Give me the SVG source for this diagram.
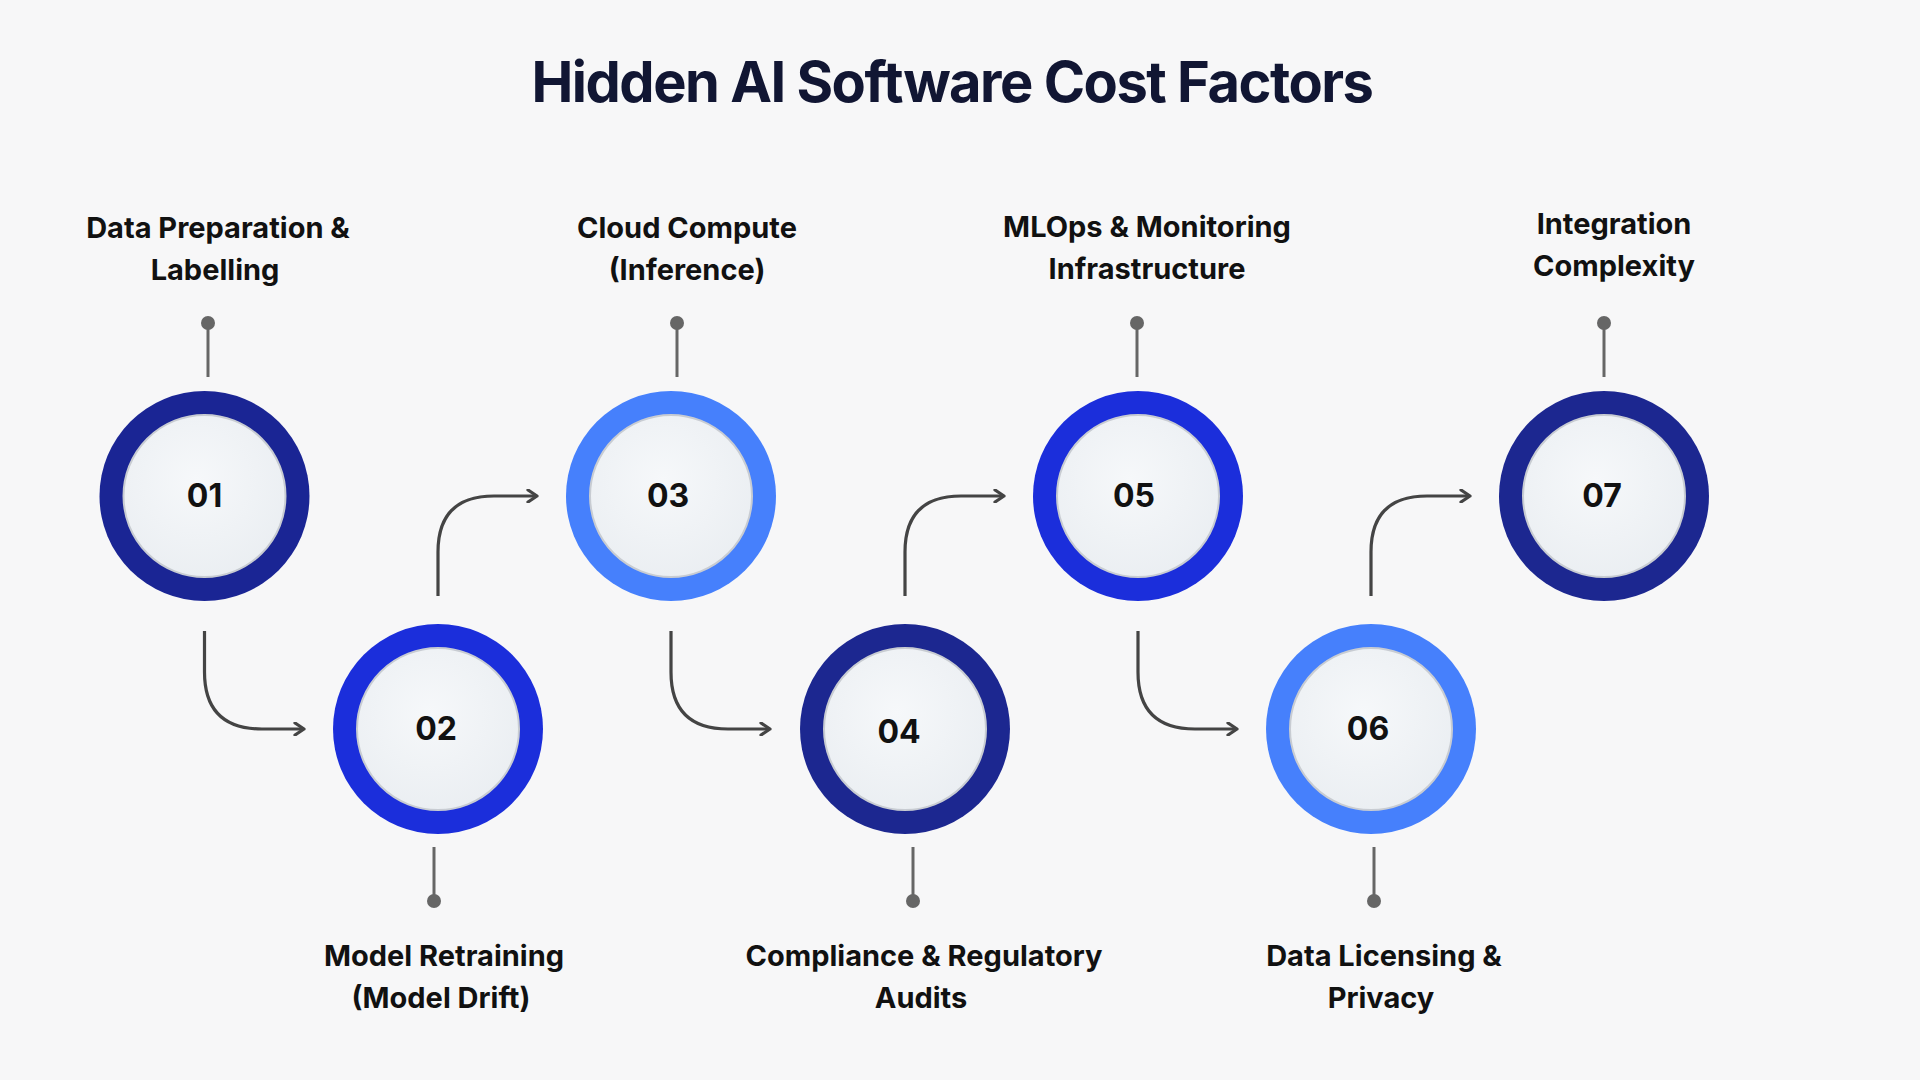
<svg xmlns="http://www.w3.org/2000/svg" width="1920" height="1080" viewBox="0 0 1920 1080">
<defs>
<marker id="ah" markerWidth="14" markerHeight="14" refX="11" refY="7" orient="auto" markerUnits="userSpaceOnUse"><path d="M2,1 L11,7 L2,13" fill="none" stroke="#444" stroke-width="3.2" stroke-linecap="round" stroke-linejoin="round"/></marker>
<radialGradient id="ig" cx="0.45" cy="0.4" r="0.7"><stop offset="0" stop-color="#f6f8fa"/><stop offset="1" stop-color="#e9edf1"/></radialGradient>
</defs>
<style>
.t{font-family:Inter,"Noto Sans",sans-serif;font-weight:700;fill:#111;font-size:29px;text-anchor:middle}
.n{font-family:Inter,"Noto Sans",sans-serif;font-weight:700;fill:#111;font-size:32px;text-anchor:middle}
.in{fill:url(#ig);stroke:#c8ccd2;stroke-width:2}
.pin{stroke:#666;stroke-width:3}
.dot{fill:#666}
.c{fill:none;stroke:#444;stroke-width:3.2;marker-end:url(#ah)}
</style>
<rect width="1920" height="1080" fill="#f7f7f8"/>
<text x="952" y="102" font-family="Inter,'Noto Sans',sans-serif" font-weight="700" font-size="56" fill="#111633" text-anchor="middle" letter-spacing="-1.5">Hidden AI Software Cost Factors</text>
<g id="connectors">
<path class="c" d="M204.5 631 V672 Q204.5 729 262 729 H304"/>
<path class="c" d="M438 596 V552 Q438 496 494 496 H537"/>
<path class="c" d="M671 631 V672 Q671 729 728 729 H770"/>
<path class="c" d="M905 596 V552 Q905 496 961 496 H1004"/>
<path class="c" d="M1138 631 V672 Q1138 729 1195 729 H1237"/>
<path class="c" d="M1371 596 V552 Q1371 496 1427 496 H1470"/>
</g>
<g id="n1"><line class="pin" x1="208" y1="323" x2="208" y2="377"/><circle class="dot" cx="208" cy="323" r="7"/><circle cx="204.5" cy="496" r="105" fill="#1a2594"/><circle class="in" cx="204.5" cy="496" r="81"/><text class="n" x="204.5" y="507">01</text><text class="t" x="218" y="238">Data Preparation &amp;</text><text class="t" x="215" y="280">Labelling</text></g>
<g id="n2"><line class="pin" x1="434" y1="847" x2="434" y2="901"/><circle class="dot" cx="434" cy="901" r="7"/><circle cx="438" cy="729" r="105" fill="#1b2edb"/><circle class="in" cx="438" cy="729" r="81"/><text class="n" x="436" y="740">02</text><text class="t" x="444" y="966">Model Retraining</text><text class="t" x="441" y="1008">(Model Drift)</text></g>
<g id="n3"><line class="pin" x1="677" y1="323" x2="677" y2="377"/><circle class="dot" cx="677" cy="323" r="7"/><circle cx="671" cy="496" r="105" fill="#4680fc"/><circle class="in" cx="671" cy="496" r="81"/><text class="n" x="668" y="507">03</text><text class="t" x="687" y="238">Cloud Compute</text><text class="t" x="687" y="280">(Inference)</text></g>
<g id="n4"><line class="pin" x1="913" y1="847" x2="913" y2="901"/><circle class="dot" cx="913" cy="901" r="7"/><circle cx="905" cy="729" r="105" fill="#1c2790"/><circle class="in" cx="905" cy="729" r="81"/><text class="n" x="899" y="743">04</text><text class="t" x="924" y="966">Compliance &amp; Regulatory</text><text class="t" x="921" y="1008">Audits</text></g>
<g id="n5"><line class="pin" x1="1137" y1="323" x2="1137" y2="377"/><circle class="dot" cx="1137" cy="323" r="7"/><circle cx="1138" cy="496" r="105" fill="#1b2edb"/><circle class="in" cx="1138" cy="496" r="81"/><text class="n" x="1134" y="507">05</text><text class="t" x="1147" y="237">MLOps &amp; Monitoring</text><text class="t" x="1147" y="279">Infrastructure</text></g>
<g id="n6"><line class="pin" x1="1374" y1="847" x2="1374" y2="901"/><circle class="dot" cx="1374" cy="901" r="7"/><circle cx="1371" cy="729" r="105" fill="#4680fc"/><circle class="in" cx="1371" cy="729" r="81"/><text class="n" x="1368" y="740">06</text><text class="t" x="1384" y="966">Data Licensing &amp;</text><text class="t" x="1381" y="1008">Privacy</text></g>
<g id="n7"><line class="pin" x1="1604" y1="323" x2="1604" y2="377"/><circle class="dot" cx="1604" cy="323" r="7"/><circle cx="1604" cy="496" r="105" fill="#1c2790"/><circle class="in" cx="1604" cy="496" r="81"/><text class="n" x="1602" y="507">07</text><text class="t" x="1614" y="234">Integration</text><text class="t" x="1614" y="276">Complexity</text></g>
</svg>
